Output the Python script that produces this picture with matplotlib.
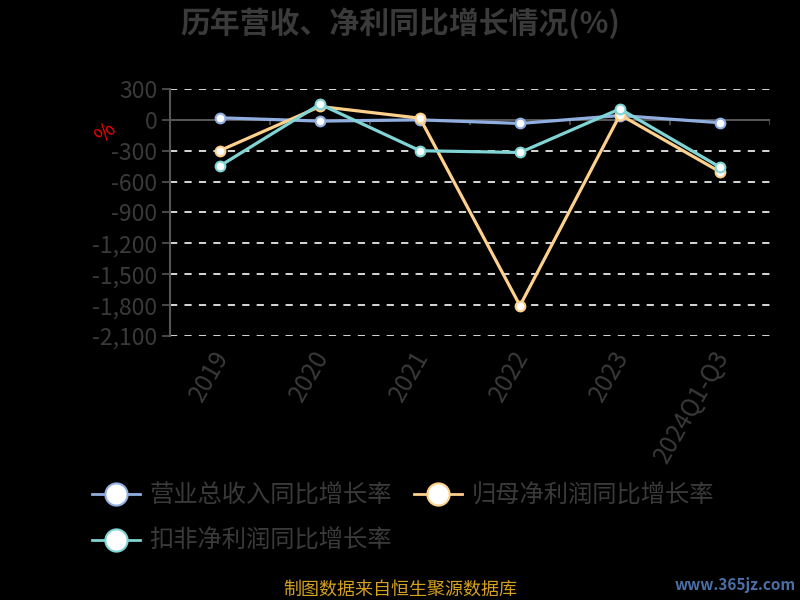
import matplotlib
matplotlib.use("Agg")
import matplotlib.pyplot as plt
import matplotlib.transforms as mtrans
from matplotlib.lines import Line2D

plt.rcParams['font.family'] = ['Noto Sans CJK SC', 'DejaVu Sans']
plt.rcParams['axes.unicode_minus'] = False

categories = ["2019", "2020", "2021", "2022", "2023", "2024Q1-Q3"]
revenue_yoy = [20, -12, 0, -35, 42, -28]
netprofit_yoy = [-298, 130, 16, -1805, 50, -505]
deducted_yoy = [-447, 152, -300, -317, 107, -460]
series_names = ["营业总收入同比增长率", "归母净利润同比增长率", "扣非净利润同比增长率"]
yticks = [300, 0, -300, -600, -900, -1200, -1500, -1800, -2100]

colors = ['#91aee0', '#fdd08c', '#80d4d4']
txt = '#3a3a3a'

fig = plt.figure(figsize=(8, 6), dpi=100, facecolor='black')
ax = fig.add_axes([0.2125, 0.44, 0.75, 0.4117])
ax.set_facecolor('black')

x = list(range(len(categories)))
for vals, c in zip([revenue_yoy, netprofit_yoy, deducted_yoy], colors):
    ax.plot(x, vals, color=c, lw=2.3, marker='o', ms=7, mfc='white', mec=c, mew=1.5,
            solid_joinstyle='round', zorder=3)

ax.set_xlim(-0.5, 5.5)
ax.set_ylim(-2100, 300)

for t in yticks:
    if t != 0:
        ax.axhline(t, color='#e8e8e8', lw=1.3, ls=(0, (4, 4)), zorder=1)
ax.axhline(0, color='#555555', lw=1.5, zorder=2)
ax.vlines([i + 0.5 for i in range(len(categories))], -50, 0, color='#555555', lw=1.2, zorder=2)

ax.set_yticks(yticks)
ax.set_yticklabels([f"{v:,}".replace("-", "- ") if False else f"{v:,}" for v in yticks],
                   fontsize=16.5, color=txt)
ax.tick_params(axis='y', length=6, color='#555555', width=1.2, pad=3)
ax.set_xticks(x)
ax.set_xticklabels(categories, fontsize=17.5, color=txt, rotation=60,
                   ha='right', va='top', rotation_mode='anchor')
ax.tick_params(axis='x', length=0, pad=7)
off = mtrans.ScaledTranslation(-8 / 100, 0, fig.dpi_scale_trans)
for lab in ax.get_xticklabels():
    lab.set_transform(lab.get_transform() + off)

for s in ['top', 'right', 'bottom']:
    ax.spines[s].set_visible(False)
ax.spines['left'].set_color('#555555')
ax.spines['left'].set_linewidth(1.5)

fig.text(0.132, 0.778, "%", color='red', fontsize=15, rotation=45, ha='center', va='center')

fig.text(0.5, 0.962, "历年营收、净利同比增长情况(%)", fontsize=21.5, fontweight='bold',
         color=txt, ha='center', va='center')

handles = [Line2D([0], [0], color=c, lw=2, marker='o', ms=16, mfc='white', mec=c, mew=1.5)
           for c in colors]
order = [0, 2, 1]
fig.legend([handles[i] for i in order], [series_names[i] for i in order],
           loc='upper left', bbox_to_anchor=(0.0875, 0.232),
           ncol=2, frameon=False, labelcolor=txt, handlelength=2.0,
           handletextpad=0.37, columnspacing=0.9, labelspacing=0.8,
           prop={'size': 17.5})

fig.text(0.5, 0.017, "制图数据来自恒生聚源数据库", fontsize=13, color='#d4a020',
         ha='center', va='center')
fig.text(0.995, 0.025, "www.365jz.com", fontsize=11, fontweight='bold', color='#4a6fa5',
         ha='right', va='center')

fig.savefig("out.png", dpi=100, facecolor='black')
